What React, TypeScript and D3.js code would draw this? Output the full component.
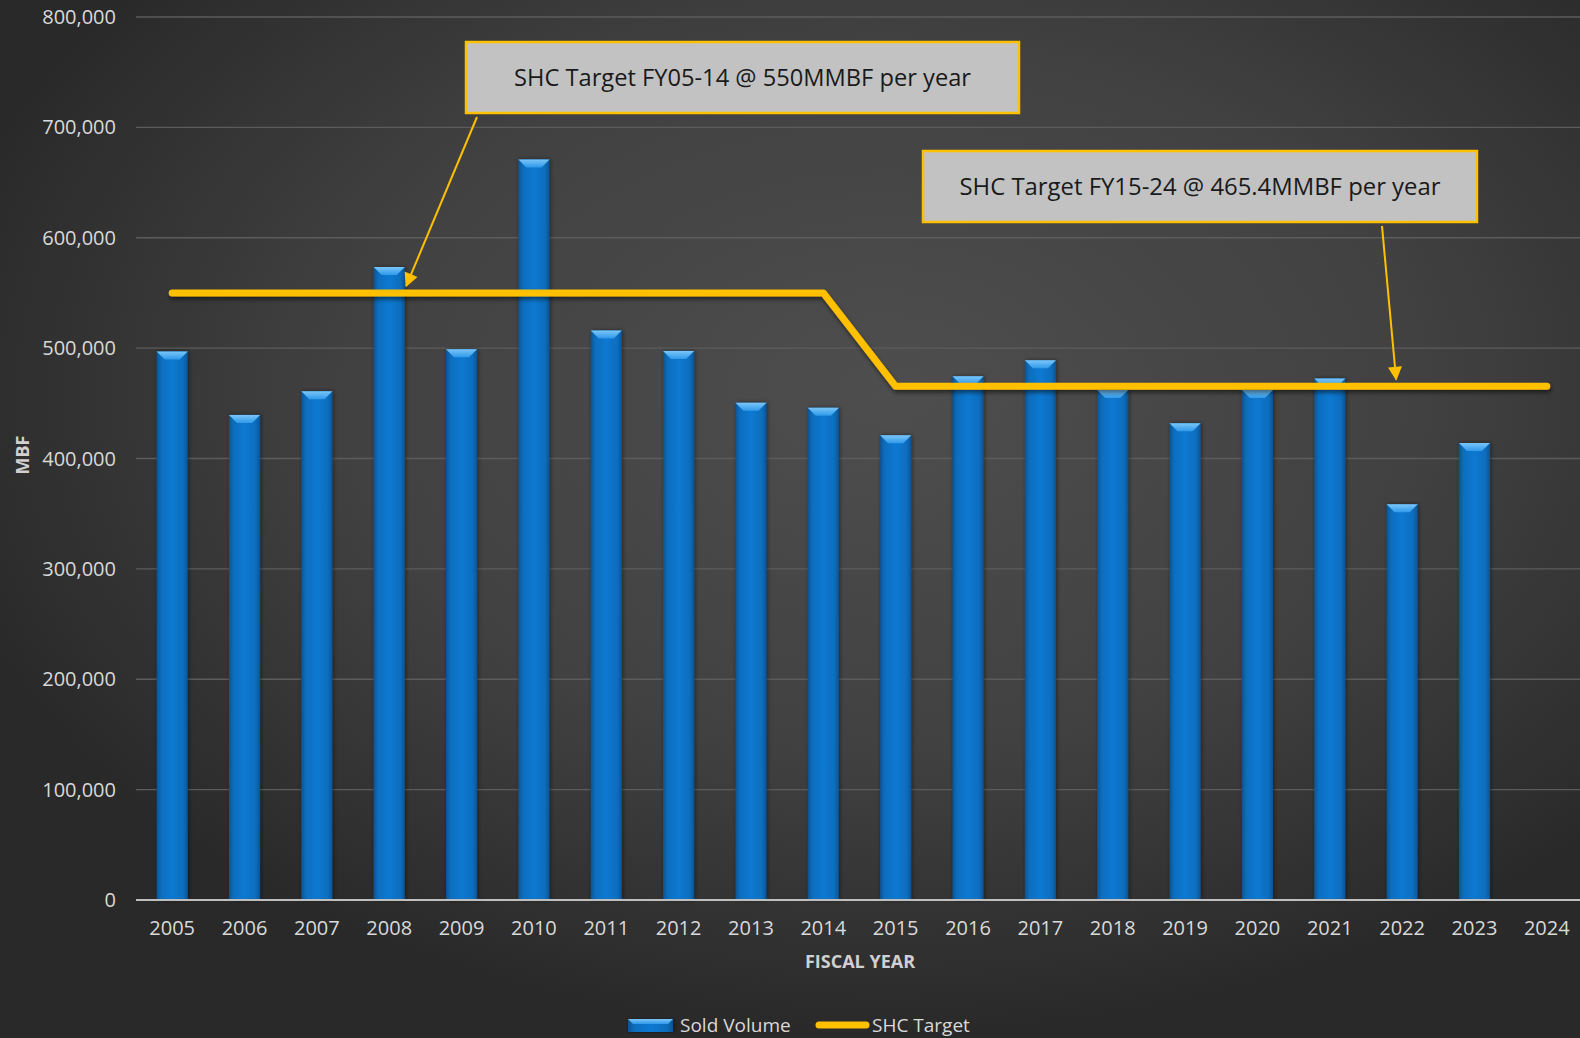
import React from "react";
import * as d3 from "d3";

// Fiscal years on the category axis
const years: string[] = [
  "2005", "2006", "2007", "2008", "2009", "2010", "2011", "2012", "2013", "2014",
  "2015", "2016", "2017", "2018", "2019", "2020", "2021", "2022", "2023", "2024",
];

// Sold volume (MBF) per fiscal year; 2024 has no sale recorded yet
const soldVolume: (number | null)[] = [
  497000, 439500, 461000, 573500, 499000, 671000, 516000, 497500, 450500, 446000,
  421000, 474500, 489000, 462000, 432000, 462000, 472500, 358500, 414000, null,
];

// SHC target (MBF per year)
const shcTarget: number[] = [
  550000, 550000, 550000, 550000, 550000, 550000, 550000, 550000, 550000, 550000,
  465400, 465400, 465400, 465400, 465400, 465400, 465400, 465400, 465400, 465400,
];

const yTicks: number[] = [0, 100000, 200000, 300000, 400000, 500000, 600000, 700000, 800000];

const legendItems: string[] = ["Sold Volume", "SHC Target"];

// Callout boxes with an arrow pointing at the target line
const callouts = [
  {
    text: "SHC Target FY05-14 @ 550MMBF per year",
    box: { x: 466, y: 42, w: 553, h: 71 },
    textWidth: 457,
    from: { x: 477, y: 117 },
    year: "2008",
    value: 550000,
    dx: 17,
  },
  {
    text: "SHC Target FY15-24 @ 465.4MMBF per year",
    box: { x: 923, y: 151, w: 554, h: 71 },
    textWidth: 481,
    from: { x: 1382, y: 226 },
    year: "2022",
    value: 465400,
    dx: -6,
  },
];

const W = 1580;
const H = 1038;
const FONT = "'Open Sans', 'Noto Sans', sans-serif";
const GOLD = "#ffc000";

export default function App() {
  const x = d3.scaleBand<string>().domain(years).range([136, 1583]).paddingInner(0.57).paddingOuter(0.285);
  const y = d3.scaleLinear().domain([0, 800000]).range([900, 17]);
  const bw = x.bandwidth();
  const cx = (yr: string) => (x(yr) as number) + bw / 2;
  const fmt = d3.format(",");

  const line = d3
    .line<number>()
    .x((_, i) => cx(years[i]))
    .y((d) => y(d));

  const bevel = (bx: number, top: number, w: number, depth = 8) => {
    const d = Math.min(depth, w / 3);
    return `${bx},${top} ${bx + w},${top} ${bx + w - d},${top + d} ${bx + d},${top + d}`;
  };

  return (
    <svg
      width={W}
      height={H}
      style={{ position: "absolute", left: 0, top: 0, display: "block" }}
      fontFamily={FONT}
    >
      <defs>
        <radialGradient id="bg" cx="0.56" cy="0.38" r="0.62">
          <stop offset="0" stopColor="#4e4e4e" />
          <stop offset="0.55" stopColor="#414141" />
          <stop offset="1" stopColor="#292929" />
        </radialGradient>
        <linearGradient id="barBody" x1="0" x2="1" y1="0" y2="0">
          <stop offset="0" stopColor="#0b5391" />
          <stop offset="0.14" stopColor="#0a6dbd" />
          <stop offset="0.5" stopColor="#0b79d2" />
          <stop offset="0.86" stopColor="#0a6dbd" />
          <stop offset="1" stopColor="#0b5391" />
        </linearGradient>
        <linearGradient id="barTop" x1="0" x2="0" y1="0" y2="1">
          <stop offset="0" stopColor="#7ac6f8" />
          <stop offset="1" stopColor="#3099ea" />
        </linearGradient>
        <filter id="barShadow" x="-30%" y="-5%" width="160%" height="110%">
          <feDropShadow dx="1" dy="0" stdDeviation="2" floodColor="#000" floodOpacity="0.45" />
        </filter>
        <filter id="lineShadow" x="-5%" y="-20%" width="110%" height="140%">
          <feDropShadow dx="1" dy="3" stdDeviation="2" floodColor="#000" floodOpacity="0.5" />
        </filter>
        <marker id="arrowHead" viewBox="0 0 10 10" refX="9" refY="5" markerWidth="8" markerHeight="7" orient="auto" markerUnits="strokeWidth">
          <path d="M0,0 L10,5 L0,10 z" fill={GOLD} />
        </marker>
      </defs>

      <rect x={0} y={0} width={W} height={H} fill="url(#bg)" />

      {/* horizontal gridlines */}
      {yTicks.filter((t) => t > 0).map((t) => (
        <line key={t} x1={136} x2={W} y1={y(t)} y2={y(t)} stroke="#5c5c5c" strokeWidth={1.3} />
      ))}

      {/* y tick labels */}
      {yTicks.map((t) => (
        <text key={t} x={116} y={y(t)} dy="0.35em" textAnchor="end" fontSize={20} fill="#d9d9d9">
          {fmt(t)}
        </text>
      ))}

      {/* bars */}
      {soldVolume.map((v, i) => {
        if (v == null) return null;
        const bx = x(years[i]) as number;
        const top = y(v);
        return (
          <g key={years[i]} filter="url(#barShadow)">
            <rect x={bx} y={top} width={bw} height={y(0) - top} fill="url(#barBody)" />
            <polygon points={bevel(bx, top, bw)} fill="url(#barTop)" />
          </g>
        );
      })}

      {/* category axis */}
      <line x1={136} x2={W} y1={y(0)} y2={y(0)} stroke="#bfbfbf" strokeWidth={2} />
      {years.map((yr) => (
        <text key={yr} x={cx(yr)} y={935} textAnchor="middle" fontSize={20} fill="#d9d9d9">
          {yr}
        </text>
      ))}

      {/* target line */}
      <path
        d={line(shcTarget) || ""}
        fill="none"
        stroke={GOLD}
        strokeWidth={7}
        strokeLinecap="round"
        strokeLinejoin="round"
        filter="url(#lineShadow)"
      />

      {/* callouts */}
      {callouts.map((c) => (
        <g key={c.text}>
          <line
            x1={c.from.x}
            y1={c.from.y}
            x2={cx(c.year) + c.dx}
            y2={y(c.value) - 7}
            stroke={GOLD}
            strokeWidth={2}
            markerEnd="url(#arrowHead)"
          />
          <rect x={c.box.x} y={c.box.y} width={c.box.w} height={c.box.h} fill="#c2c2c2" stroke={GOLD} strokeWidth={2.5} />
          <text
            x={c.box.x + c.box.w / 2}
            y={c.box.y + c.box.h / 2}
            dy="0.35em"
            textAnchor="middle"
            fontSize={23}
            fill="#1a1a1a"
            textLength={c.textWidth}
            lengthAdjust="spacingAndGlyphs"
          >
            {c.text}
          </text>
        </g>
      ))}

      {/* axis titles */}
      <text x={860} y={962} dy="0.35em" textAnchor="middle" fontSize={18} fontWeight={700} fill="#d0d0d0">
        FISCAL YEAR
      </text>
      <text
        transform={`translate(23,455) rotate(-90)`}
        dy="0.35em"
        textAnchor="middle"
        fontSize={18}
        fontWeight={700}
        fill="#d0d0d0"
      >
        MBF
      </text>

      {/* legend */}
      <g>
        <g filter="url(#barShadow)">
          <rect x={628} y={1019} width={45} height={13} fill="url(#barBody)" />
          <polygon points={bevel(628, 1019, 45, 5)} fill="url(#barTop)" />
        </g>
        <text x={680} y={1025} dy="0.35em" fontSize={19} fill="#d9d9d9">
          {legendItems[0]}
        </text>
        <line x1={819} x2={866} y1={1025} y2={1025} stroke={GOLD} strokeWidth={7} strokeLinecap="round" />
        <text x={872} y={1025} dy="0.35em" fontSize={19} fill="#d9d9d9">
          {legendItems[1]}
        </text>
      </g>
    </svg>
  );
}
